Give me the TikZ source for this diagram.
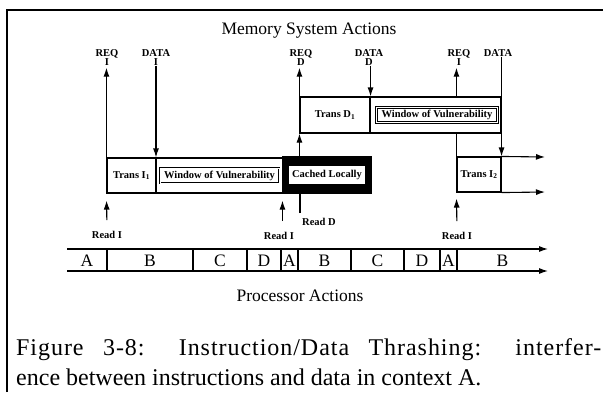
\documentclass[tikz,border=0pt]{standalone}
\usepackage{fontspec}
\setmainfont{Liberation Serif}
\usetikzlibrary{arrows.meta,positioning}

\newcommand{\lab}{\fontsize{10.5}{9}\selectfont\bfseries}
\newcommand{\bigtxt}{\fontsize{17.5}{17.5}\selectfont}
\tikzset{
 slot/.style
  = {rectangle, draw, line width=1.1pt, inner sep=0pt, minimum height=35pt, font=\lab},
 win/.style
  = {rectangle, draw, double, double distance=0.9pt, line width=0.6pt, inner sep=0pt,
     minimum height=15pt, font=\lab},
 sig/.style
  = {align=center, inner sep=0pt, font=\lab},
 up/.style
  = {draw, line width=1.1pt, -{Latex[length=9pt,width=6pt]}},
 plain/.style
  = {draw, line width=1.1pt},
}

\begin{document}
\begin{tikzpicture}[x=1pt, y=-1pt]
\useasboundingbox (0,0) rectangle (603,392);

% frame
\draw[line width=1.2pt] (7,392) -- (7,10) -- (603,10);

\node[font=\bigtxt] (memtitle) at (309,31) {Memory System Actions};

% instruction row
\node[slot, minimum width=49pt] (transI) at (131.5,175.5) {Trans I\textsubscript{1}};
\node[slot, minimum width=127pt] (winI) at (219.5,175.5) {};
\node[win, minimum width=119pt] (vulnI) at (winI) {Window of Vulnerability};
\node[slot, fill=black, minimum width=88pt, minimum height=36pt] (cached) at (327,175) {};
\node[rectangle, fill=white, inner sep=0pt, minimum width=76pt, minimum height=18pt, font=\lab]
  (cachedin) at (cached) {Cached Locally};

% data row
\node[slot, minimum width=70pt, minimum height=36pt] (transD) at (335,115) {Trans D\textsubscript{1}};
\node[slot, minimum width=131pt, minimum height=36pt] (winD) at (435.5,115) {};
\node[win, minimum width=121pt] (vulnD) at (437,115) {Window of Vulnerability};

% second instruction fetch
\node[slot, minimum width=44pt] (transI2) at (479,174.5) {Trans I\textsubscript{2}};
\coordinate (contTop) at (545,157);
\coordinate (contBot) at (545,192);
\draw[up] (transI2.north east) -- (contTop);
\draw[up] (transI2.south east) -- (contBot);

% memory signals
\node[sig] (reqI) at (107,57.5) {REQ\\I};
\node[sig] (dataI) at (156,57.5) {DATA\\I};
\node[sig] (reqD) at (301,57.5) {REQ\\D};
\node[sig] (dataD) at (369,57.5) {DATA\\D};
\node[sig] (reqI2) at (459,57.5) {REQ\\I};
\node[sig] (dataI2) at (498,53) {DATA};

\draw[up, shorten >=2pt] (transI.north west) -- (transI.north west |- reqI.south);
\draw[up] (dataI.south) -- (dataI.south |- winI.north);
\draw[up, shorten >=2pt] (transD.north west) -- (transD.north west |- reqD.south);
\draw[up] (cached.north -| transD.west) -- (transD.south west);
\draw[up] (dataD.south -| transD.east) -- (transD.north east);
\draw[plain] (transI2.north west) -- (transI2.north west |- winD.south);
\draw[up, shorten >=2pt] (transI2.north west |- winD.north) -- (transI2.north west |- reqI2.south);
\draw[up] (transI2.north east |- dataI2.south) -- (transI2.north east);

% processor requests
\node[sig] (readI) at (107,235) {Read I};
\node[sig] (readI2) at (279,236) {Read I};
\node[sig, anchor=west] (readD) at (302,222) {Read D};
\node[sig] (readI3) at (457,236) {Read I};
\coordinate (readDend) at (300,213);

\draw[up, shorten <=11pt, shorten >=7pt] (readI.north) -- (transI.south west);
\draw[up, shorten <=11pt, shorten >=7pt] (readI2.north -| cached.west) -- (cached.south west);
\draw[plain] (readDend) -- (readDend |- cached.south);
\draw[up, shorten <=11pt, shorten >=6pt] (readI3.north) -- (transI2.south west);

% processor time line
\coordinate (tlA) at (67,249);
\coordinate (tlAend) at (548,249);
\coordinate (tlB) at (67,271);
\coordinate (tlBend) at (548,271);
\draw[up] (tlA) -- (tlAend);
\draw[up] (tlB) -- (tlBend);
\foreach \x in {107,193,247,281,298,351,404,440,457}
  \draw[plain] (\x,249) -- (\x,271);
\foreach \c/\l [count=\i] in {87/A,150/B,220/C,264/D,289.5/A,324.5/B,377.5/C,422/D,448.5/A,502.5/B}
  \node[font=\bigtxt] (seg\i) at (\c,260.5) {\l};

\node[font=\bigtxt] (proctitle) at (300,296) {Processor Actions};

% caption
\node[anchor=base west, inner sep=0pt, font=\fontsize{24}{30}\selectfont] (capA) at (16,355)
  {\addfontfeatures{LetterSpace=4}\makebox[585pt][s]{Figure 3-8: Instruction/Data Thrashing: interfer-}};
\node[anchor=base west, inner sep=0pt, font=\fontsize{24}{30}\selectfont] (capB) at (16,385)
  {ence between instructions and data in context A.};

\end{tikzpicture}
\end{document}
